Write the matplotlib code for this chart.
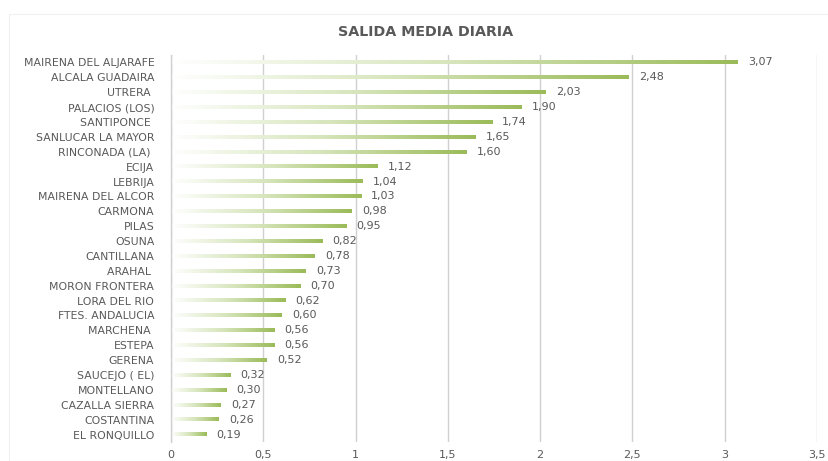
import numpy as np
import matplotlib.pyplot as plt
from matplotlib.colors import LinearSegmentedColormap
from matplotlib.patches import Rectangle
from matplotlib.ticker import FuncFormatter

municipios = ["MAIRENA DEL ALJARAFE", "ALCALA GUADAIRA", "UTRERA ", "PALACIOS (LOS)",
              "SANTIPONCE ", "SANLUCAR LA MAYOR", "RINCONADA (LA) ", "ECIJA", "LEBRIJA",
              "MAIRENA DEL ALCOR", "CARMONA", "PILAS", "OSUNA", "CANTILLANA", "ARAHAL ",
              "MORON FRONTERA", "LORA DEL RIO", "FTES. ANDALUCIA", "MARCHENA ", "ESTEPA",
              "GERENA", "SAUCEJO ( EL)", "MONTELLANO", "CAZALLA SIERRA", "COSTANTINA",
              "EL RONQUILLO"]
salida = [3.07, 2.48, 2.03, 1.90, 1.74, 1.65, 1.60, 1.12, 1.04, 1.03, 0.98, 0.95, 0.82,
          0.78, 0.73, 0.70, 0.62, 0.60, 0.56, 0.56, 0.52, 0.32, 0.30, 0.27, 0.26, 0.19]
x_ticks = [0, 0.5, 1, 1.5, 2, 2.5, 3, 3.5]

gris = "#595959"
plt.rcParams['font.family'] = ['DejaVu Sans']

fig = plt.figure(figsize=(8.29, 4.61), dpi=100)
fig.patches.append(Rectangle((0.011, 0.0), 0.989, 0.97, transform=fig.transFigure,
                             fill=False, edgecolor="#f0f0f0", linewidth=0.8))
ax = fig.add_axes([0.2063, 0.0412, 0.7792, 0.8395])

# degradado blanco -> verde en cada barra
cmap = LinearSegmentedColormap.from_list("verde", ["#ffffff", "#d6e5bb", "#9bbb59"])
grad = np.linspace(0, 1, 256).reshape(1, -1)
h = 0.24
for i, v in enumerate(salida):
    ax.imshow(grad, cmap=cmap, aspect="auto", extent=[0, v, i + h / 2, i - h / 2],
              interpolation="bilinear", zorder=2)
    ax.text(v + 0.055, i, f"{v:.2f}".replace(".", ","), va="center", ha="left",
            fontsize=8, color=gris)

ax.set_xlim(0, 3.5)
ax.set_ylim(len(salida) - 0.5, -0.5)
ax.set_yticks(range(len(municipios)))
ax.set_yticklabels(municipios, fontsize=7.8, color=gris)
ax.set_xticks(x_ticks)
ax.xaxis.set_major_formatter(FuncFormatter(lambda x, p: f"{x:g}".replace(".", ",")))
ax.tick_params(axis="x", labelsize=8, labelcolor=gris, length=0, pad=6)
ax.tick_params(axis="y", length=0, pad=12)
ax.grid(axis="x", color="#d0d0d0", linewidth=1.0, zorder=0)
for s in ["top", "right", "bottom"]:
    ax.spines[s].set_visible(False)
ax.spines["left"].set_color("#d0d0d0")
ax.spines["left"].set_linewidth(1.0)

fig.text(0.513, 0.93, "SALIDA MEDIA DIARIA", ha="center", va="center",
         fontsize=10.3, fontweight="bold", color=gris)

fig.savefig("out.png", dpi=100)
